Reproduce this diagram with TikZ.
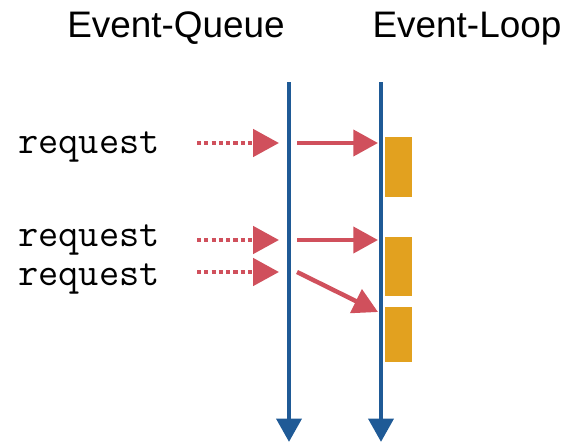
\documentclass[tikz,border=0pt]{standalone}
\usepackage{fontspec}
\setmainfont{Liberation Sans}
\usetikzlibrary{calc, arrows.meta}

\definecolor{axisblue}{HTML}{1F5A96}
\definecolor{reqred}{HTML}{D0505C}
\definecolor{jobamber}{HTML}{E2A11F}

\tikzset{
	timeline/.style={draw=axisblue, line width=4.25pt, -{Triangle[length=20pt,width=21pt]}},
	pending/.style={draw=reqred, line width=3.7pt, dash pattern=on 3.6pt off 2.6pt, -{Triangle[length=22pt,width=23pt]}},
	handoff/.style={draw=reqred, line width=3.8pt, -{Triangle[length=21pt,width=22pt]}},
	job/.style={rectangle, fill=jobamber, inner sep=0pt, minimum width=23pt, anchor=north west},
	reqtext/.style={anchor=base west, inner sep=0pt, text height=0.58em, text depth=0.2em, font=\ttfamily\fontsize{33.5}{33.5}\selectfont},
}

\begin{document}
\begin{tikzpicture}[x=0.03cm, y=-0.03cm]
	
	\useasboundingbox (0,0) rectangle (567,442);
	
	\node[font=\fontsize{31.5}{31.5}\selectfont, anchor=base] (queuetitle) at (176,37) {Event-Queue};
	\node[font=\fontsize{31.5}{31.5}\selectfont, anchor=base] (looptitle) at (467,37) {Event-Loop};
	
	\coordinate (queueTop) at (289,82);
	\coordinate (queueBot) at (289,442);
	\coordinate (loopTop) at (381,82);
	\coordinate (loopBot) at (381,442);
	
	\node[job, minimum height=51pt] (jobA) at (385,137) {};
	\node[job, minimum height=50pt] (jobB) at (385,237) {};
	\node[job, minimum height=47pt] (jobC) at (385,307) {};
	
	\draw[timeline] (queueTop) -- (queueBot);
	\draw[timeline] (loopTop) -- (loopBot);
	
	\node[reqtext] (reqA) at (18,153) {request};
	\node[reqtext] (reqB) at (18,246) {request};
	\node[reqtext] (reqC) at (18,285) {request};
	
	% dotted: request waits in the queue
	\coordinate (inA) at (197,143);
	\coordinate (inB) at (197,240);
	\coordinate (inC) at (197,272);
	\coordinate (qA) at (279,143);
	\coordinate (qB) at (279,240);
	\coordinate (qC) at (279,272);
	\draw[pending] (inA) -- (qA);
	\draw[pending] (inB) -- (qB);
	\draw[pending] (inC) -- (qC);
	
	% solid: queue hands over to the loop
	\coordinate (outA) at (297,143);
	\coordinate (outB) at (297,240);
	\coordinate (outC) at (297,272);
	\coordinate (lpA) at (378,143);
	\coordinate (lpB) at (378,240);
	\coordinate (lpC) at (378,312);
	\draw[handoff] (outA) -- (lpA);
	\draw[handoff] (outB) -- (lpB);
	\draw[handoff] (outC) -- (lpC);
	
\end{tikzpicture}
\end{document}
